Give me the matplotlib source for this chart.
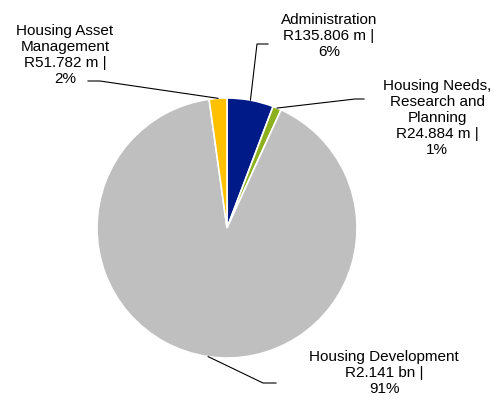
import numpy as np
import matplotlib.pyplot as plt

plt.rcParams['font.family'] = ['Liberation Sans', 'DejaVu Sans']

# Budget per programme, R million
names = ["Administration", "Housing Needs,\nResearch and\nPlanning",
         "Housing Development", "Housing Asset\nManagement"]
values = [135.806, 24.884, 2141.0, 51.782]
colors = ["#001A88", "#8DB01E", "#BFBFBF", "#FFC000"]

# label layout in pixels: text centre, elbow, end of horizontal stub
text_px = [(329, 36), (437, 118), (384, 373), (65, 55)]
elbow_px = [(257, 44), (355, 99), (263, 383), (100, 81)]
stub_px = [(268, 44), (364, 99), (276, 383), (88, 81)]

W, H = 497, 400
cx, cy, R = 227, 228, 130


def to_data(p):
    return ((p[0] - cx) / R, (cy - p[1]) / R)


fig = plt.figure(figsize=(W / 100, H / 100), dpi=100)
ax = fig.add_axes([0, 0, 1, 1])

wedges, _ = ax.pie(values, colors=colors, startangle=90, counterclock=False,
                   radius=1, wedgeprops=dict(edgecolor='white', linewidth=1.2))

total = sum(values)
for i, w in enumerate(wedges):
    v = values[i]
    amt = f"R{v / 1000:.3f} bn" if v >= 1000 else f"R{v:.3f} m"
    label = f"{names[i]}\n{amt} |\n{round(v / total * 100)}%"
    ang = np.deg2rad((w.theta1 + w.theta2) / 2)
    edge = (np.cos(ang), np.sin(ang))
    e = to_data(elbow_px[i])
    s = to_data(stub_px[i])
    ax.plot([edge[0], e[0], s[0]], [edge[1], e[1], s[1]], color='black', lw=0.8)
    tx, ty = to_data(text_px[i])
    ax.text(tx, ty, label, ha='center', va='center', fontsize=11,
            linespacing=1.2, color='#000000')

ax.set_aspect('auto')
ax.set_xlim(-cx / R, (W - cx) / R)
ax.set_ylim((cy - H) / R, cy / R)
ax.axis('off')

fig.savefig("out.png", dpi=100)
